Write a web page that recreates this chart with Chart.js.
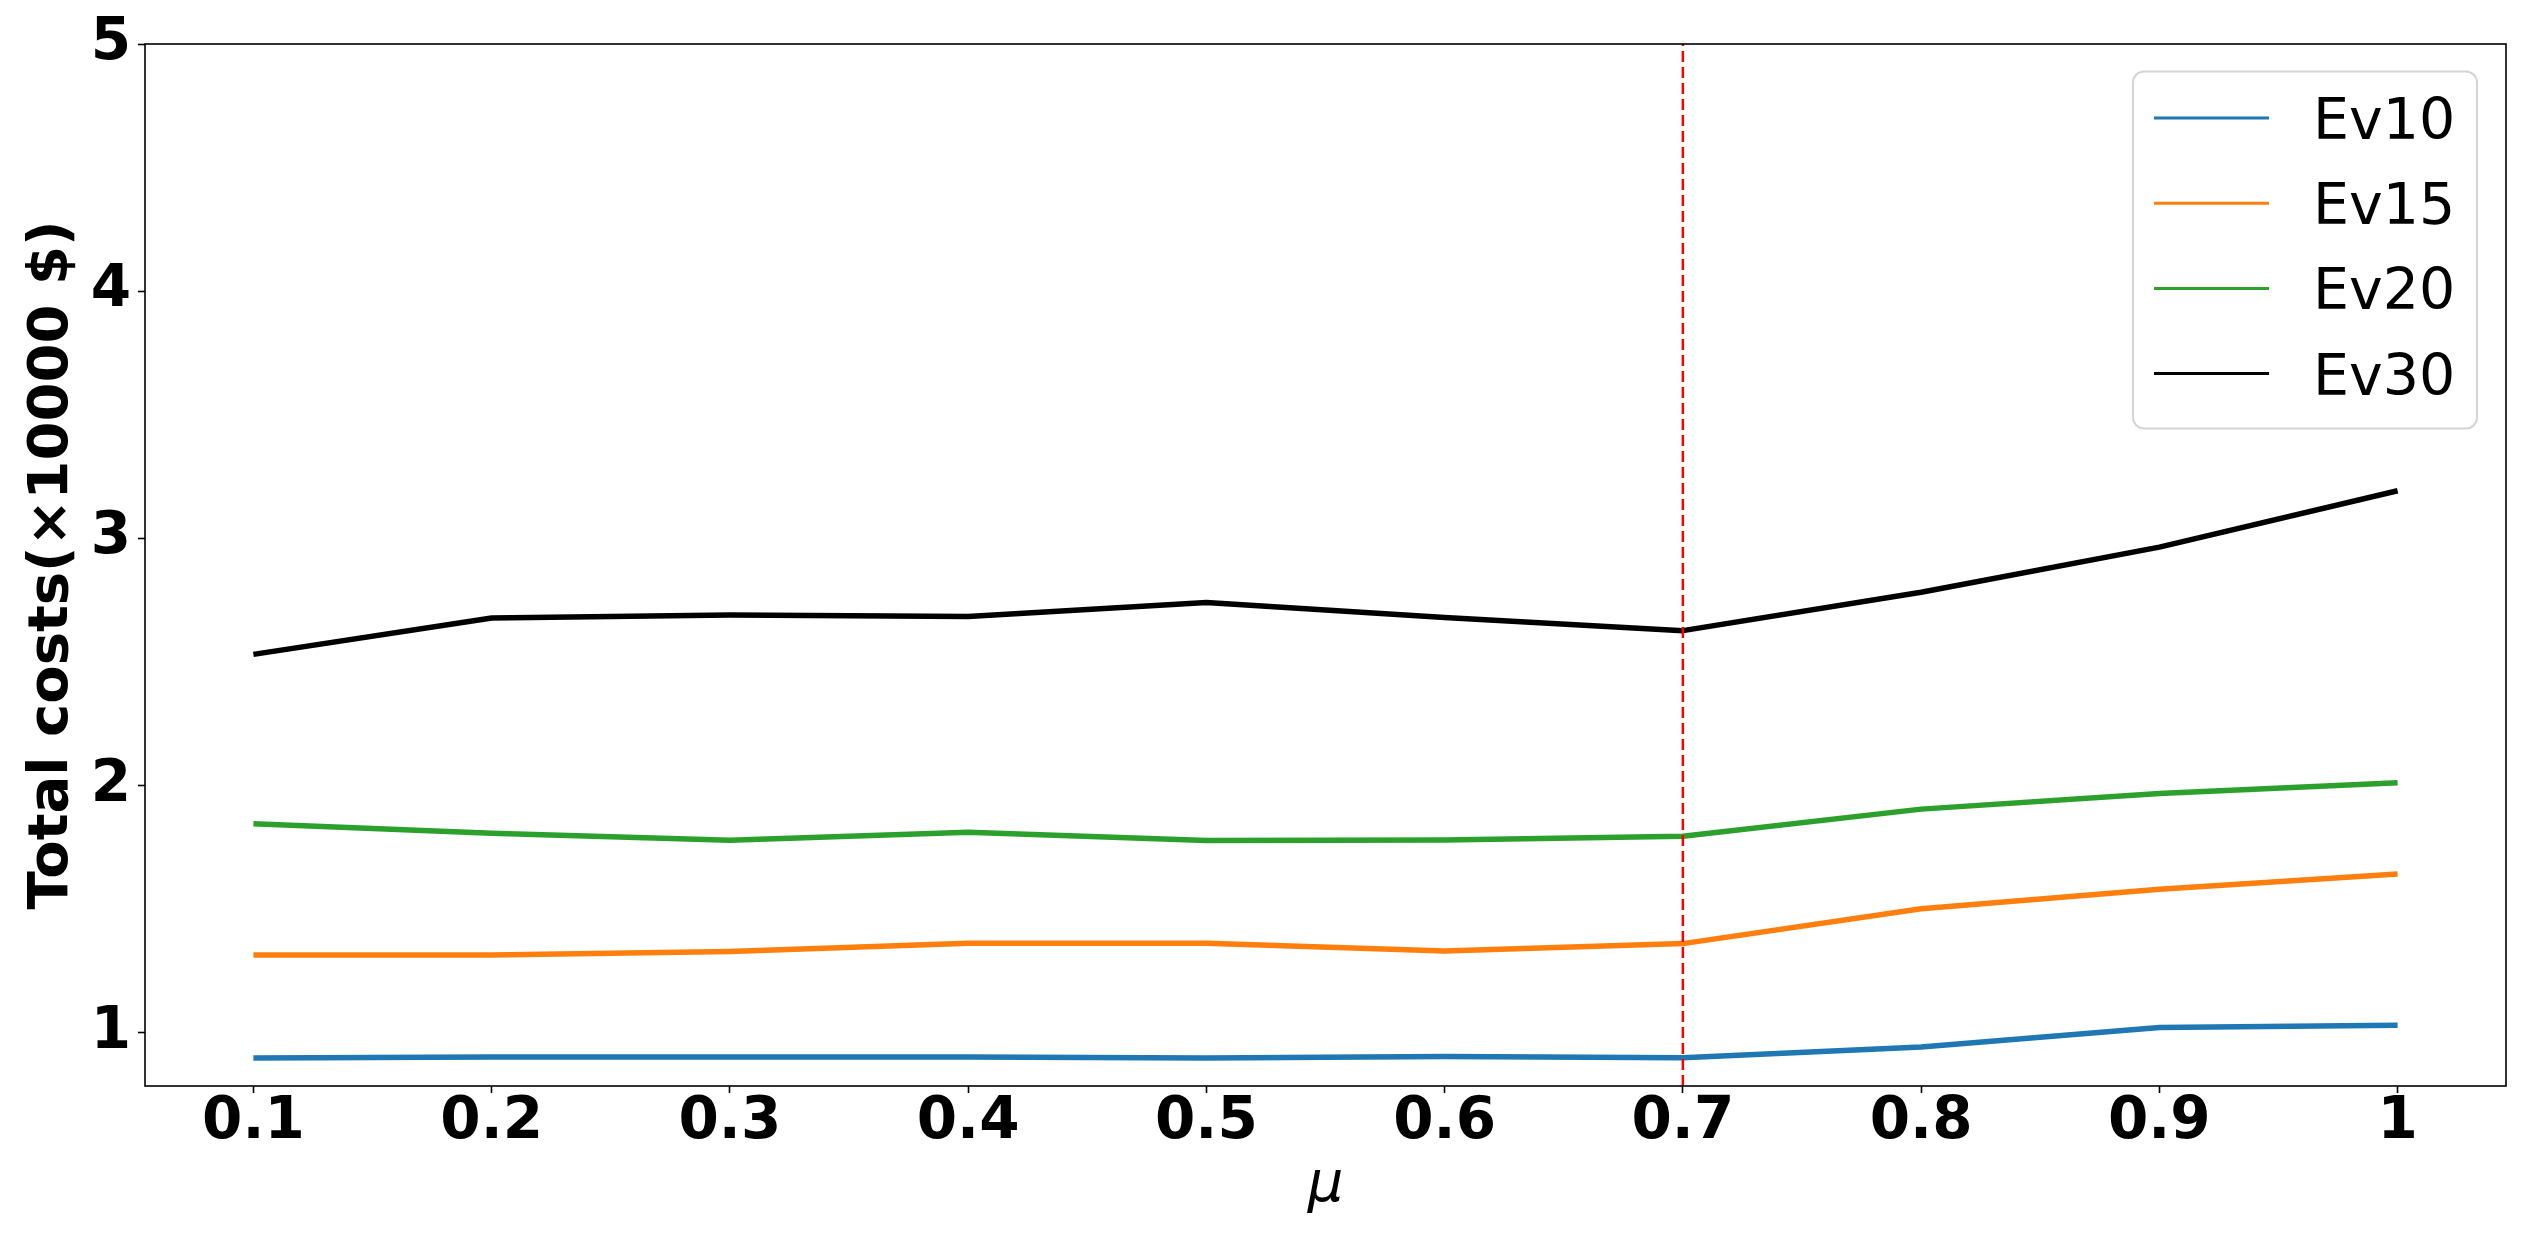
<!DOCTYPE html>
<html>
<head>
<meta charset="utf-8">
<script src="https://cdn.jsdelivr.net/npm/chart.js@4/dist/chart.umd.min.js"></script>
<style>
  html, body { margin: 0; padding: 0; background: #ffffff; }
  #wrap { width: 2527px; height: 1241px; position: relative; }
  canvas { display: block; }
</style>
</head>
<body>
<div id="wrap"><canvas id="c" width="2527" height="1241"></canvas></div>
<script>
// ---- data ----
const mu = [0.1, 0.2, 0.3, 0.4, 0.5, 0.6, 0.7, 0.8, 0.9, 1.0];
const seriesNames = ['Ev10', 'Ev15', 'Ev20', 'Ev30'];
const ev10 = [0.898, 0.902, 0.902, 0.902, 0.898, 0.904, 0.899, 0.943, 1.022, 1.031];
const ev15 = [1.315, 1.315, 1.329, 1.362, 1.362, 1.331, 1.361, 1.502, 1.581, 1.643];
const ev20 = [1.846, 1.807, 1.779, 1.811, 1.778, 1.780, 1.795, 1.905, 1.968, 2.012];
const ev30 = [2.531, 2.678, 2.690, 2.684, 2.741, 2.680, 2.627, 2.782, 2.965, 3.193];
const xTickValues = [0.1, 0.2, 0.3, 0.4, 0.5, 0.6, 0.7, 0.8, 0.9, 1.0];
const xTickLabels = ['0.1', '0.2', '0.3', '0.4', '0.5', '0.6', '0.7', '0.8', '0.9', '1'];
const yTickValues = [1, 2, 3, 4, 5];
const yTickLabels = ['1', '2', '3', '4', '5'];
const thresholdMu = 0.7;
const xLimits = [0.0545, 1.0455];
const yLimits = [0.785, 5];
const xTitle = 'μ';
const yTitle = 'Total costs(×10000 $)';

const colors = ['#1f77b4', '#ff7f0e', '#2ca02c', '#000000'];
const allSeries = [ev10, ev15, ev20, ev30];

const datasets = allSeries.map((vals, i) => ({
  label: seriesNames[i],
  data: mu.map((m, j) => ({ x: m, y: vals[j] })),
  borderColor: colors[i],
  backgroundColor: colors[i],
  borderWidth: 5.5,
  pointRadius: 0,
  pointHoverRadius: 0,
  tension: 0,
  fill: false,
  borderJoinStyle: 'round',
  borderCapStyle: 'butt'
}));

const FONT = "'DejaVu Sans', 'Liberation Sans', sans-serif";

const overlayPlugin = {
  id: 'overlay',
  afterDatasetsDraw(chart) {
    const ctx = chart.ctx;
    const a = chart.chartArea;
    const xs = chart.scales.x;
    // red dashed vertical line
    const px = xs.getPixelForValue(thresholdMu);
    ctx.save();
    ctx.strokeStyle = '#ff0000';
    ctx.lineWidth = 2.5;
    ctx.setLineDash([11, 5]);
    ctx.beginPath();
    ctx.moveTo(px, a.bottom);
    ctx.lineTo(px, a.top);
    ctx.stroke();
    ctx.restore();

    // frame (spines)
    ctx.save();
    ctx.strokeStyle = '#000000';
    ctx.lineWidth = 1.6;
    ctx.strokeRect(a.left, a.top, a.right - a.left, a.bottom - a.top);
    ctx.restore();

    // legend
    const ds = chart.data.datasets;
    const boxRight = a.right - 29;
    const boxLeft = boxRight - 344;
    const boxTop = a.top + 27.5;
    const boxBottom = boxTop + 357;
    const r = 11;
    ctx.save();
    ctx.fillStyle = 'rgba(255,255,255,0.85)';
    ctx.strokeStyle = '#d4d4d4';
    ctx.lineWidth = 2;
    ctx.beginPath();
    ctx.moveTo(boxLeft + r, boxTop);
    ctx.lineTo(boxRight - r, boxTop);
    ctx.arcTo(boxRight, boxTop, boxRight, boxTop + r, r);
    ctx.lineTo(boxRight, boxBottom - r);
    ctx.arcTo(boxRight, boxBottom, boxRight - r, boxBottom, r);
    ctx.lineTo(boxLeft + r, boxBottom);
    ctx.arcTo(boxLeft, boxBottom, boxLeft, boxBottom - r, r);
    ctx.lineTo(boxLeft, boxTop + r);
    ctx.arcTo(boxLeft, boxTop, boxLeft + r, boxTop, r);
    ctx.closePath();
    ctx.fill();
    ctx.stroke();
    ctx.font = '57px ' + FONT;
    ctx.textBaseline = 'alphabetic';
    ctx.textAlign = 'left';
    for (let i = 0; i < ds.length; i++) {
      const y = boxTop + 46.5 + i * 85.2;
      ctx.strokeStyle = ds[i].borderColor;
      ctx.lineWidth = 3;
      ctx.beginPath();
      ctx.moveTo(boxLeft + 21, y);
      ctx.lineTo(boxLeft + 136, y);
      ctx.stroke();
      ctx.fillStyle = '#000000';
      ctx.fillText(ds[i].label, boxLeft + 180, y + 21);
    }
    ctx.restore();
  }
};

new Chart(document.getElementById('c'), {
  type: 'line',
  data: { datasets },
  plugins: [overlayPlugin],
  options: {
    responsive: false,
    animation: false,
    devicePixelRatio: 1,
    layout: { padding: { top: 44, right: 21, left: 0, bottom: 0 } },
    plugins: {
      legend: { display: false },
      tooltip: { enabled: false }
    },
    scales: {
      x: {
        type: 'linear',
        min: xLimits[0],
        max: xLimits[1],
        afterBuildTicks: (axis) => { axis.ticks = xTickValues.map(v => ({ value: v })); },
        afterFit: (s) => { s.height = 155; },
        grid: { display: true, drawOnChartArea: false, drawTicks: true, tickLength: 7, tickColor: '#000000', tickWidth: 1.6 },
        border: { display: false },
        ticks: {
          autoSkip: false,
          maxRotation: 0,
          padding: 1,
          color: '#000000',
          font: { family: FONT, size: 58, weight: 'bold', lineHeight: 1 },
          callback: (v, i) => xTickLabels[i]
        },
        title: {
          display: true,
          text: xTitle,
          color: '#000000',
          font: { family: FONT, size: 56, style: 'italic', weight: 'normal', lineHeight: 1.2 },
          padding: { top: 0, bottom: 21 }
        }
      },
      y: {
        type: 'linear',
        min: yLimits[0],
        max: yLimits[1],
        afterBuildTicks: (axis) => { axis.ticks = yTickValues.map(v => ({ value: v })); },
        afterFit: (s) => { s.width = 145; },
        grid: { display: true, drawOnChartArea: false, drawTicks: true, tickLength: 7, tickColor: '#000000', tickWidth: 1.6 },
        border: { display: false },
        ticks: {
          autoSkip: false,
          padding: 7,
          color: '#000000',
          font: { family: FONT, size: 58, weight: 'bold', lineHeight: 1 },
          callback: (v, i) => yTickLabels[i]
        },
        title: {
          display: true,
          text: yTitle,
          color: '#000000',
          font: { family: FONT, size: 56, weight: 'bold', lineHeight: 1.2 },
          padding: { top: 19, bottom: 0 }
        }
      }
    }
  }
});
</script>
</body>
</html>
